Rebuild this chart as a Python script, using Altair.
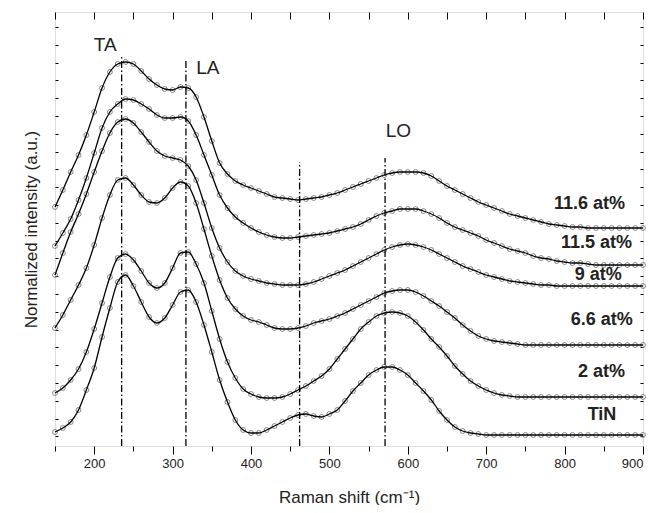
import altair as alt
import pandas as pd

# Raman shift grid (cm^-1)
shift = list(range(150, 901, 10))

# Normalized intensity (a.u., stacked with offsets)
i_116 = [239,256,274,291,311,334,358,374,382,384,
         382,375,367,361,357,356,359,358,349,329,
         305,283,272,265,261,258,255,252,249,248,
         247,246,247,248,249,251,253,256,259,262,
         265,268,271,273,274,274,274,273,270,265,
         260,256,252,248,244,241,238,235,232,230,
         228,226,224,222,221,220,219,219,218,218,
         218,218,218,218,218,218]
i_115 = [200,213,227,246,268,293,318,334,342,347,
         346,342,337,331,328,328,329,325,311,291,
         271,251,238,229,223,218,214,211,209,208,
         208,209,210,211,212,213,215,217,219,222,
         226,230,233,235,237,237,237,235,232,228,
         223,219,216,213,210,206,203,200,197,195,
         193,190,188,187,185,184,183,183,182,181,
         181,181,181,181,181,181]
i_9 = [171,193,214,232,252,274,295,313,324,327,
       323,314,304,295,290,288,286,280,266,243,
       218,198,184,175,170,167,165,163,162,161,
       161,161,162,164,167,170,173,176,180,184,
       188,192,196,199,201,202,201,199,196,192,
       188,184,180,177,174,171,169,167,165,164,
       163,162,161,161,160,160,160,160,160,160,
       160,160,160,160,160,160]
i_66 = [118,131,146,161,178,201,228,251,266,268,
        261,251,244,243,248,258,264,260,243,217,
        190,166,148,137,130,126,124,121,118,117,
        117,118,120,123,125,127,130,133,137,141,
        145,149,153,155,156,156,154,150,145,140,
        134,128,121,115,110,107,105,104,103,102,
        101,101,101,101,101,101,101,101,101,101,
        101,101,101,101,101,101]
i_2 = [53,58,66,77,94,117,143,169,188,192,
       186,175,163,158,163,178,193,194,182,163,
       135,107,84,68,57,52,49,48,48,49,
       52,56,60,65,70,77,87,97,107,117,
       124,130,133,134,133,130,124,116,107,99,
       90,80,72,65,60,56,53,51,50,49,
       49,49,49,49,49,49,49,49,49,49,
       49,49,49,49,49,49]
i_tin = [14,18,24,36,56,78,109,138,164,171,
         160,144,129,123,128,141,154,156,144,121,
         94,66,44,26,16,13,13,16,20,24,
         28,31,32,30,29,32,36,45,55,63,
         71,76,79,79,76,71,63,55,46,35,
         26,19,15,13,12,11,11,11,11,11,
         11,11,11,11,11,11,11,11,11,11,
         11,11,11,11,11,11]

samples = ["11.6 at%", "11.5 at%", "9 at%", "6.6 at%", "2 at%", "TiN"]
series = [i_116, i_115, i_9, i_66, i_2, i_tin]

# sample label positions (right edge, in data units)
label_x = [877, 886, 873, 887, 877, 866]
label_y = [242, 203, 171, 126, 74, 31]

# phonon mode reference lines
mode_x = [235, 317, 462, 571]
mode_top = [389, 387, 284, 288]

# mode annotations
mode_names = ["TA", "LA", "LO"]
mode_name_x = [214, 345, 588]
mode_name_y = [401, 378, 315]

rows = []
for name, vals in zip(samples, series):
    for x, v in zip(shift, vals):
        rows.append({"shift": x, "intensity": v, "sample": name})
df = pd.DataFrame(rows)

labels_df = pd.DataFrame({"x": label_x, "y": label_y, "text": samples})
rules_df = pd.DataFrame({"x": mode_x, "top": mode_top, "bottom": [0] * len(mode_x)})
modes_df = pd.DataFrame({"x": mode_name_x, "y": mode_name_y, "text": mode_names})

xs = alt.Scale(domain=[150, 900], nice=False, zero=False)
ys = alt.Scale(domain=[0, 434], nice=False, zero=False)

x_ticks = list(range(150, 901, 50))
y_ticks = [round(9.6 + 17.8 * k, 1) for k in range(24)]

points = alt.Chart(df).mark_point(
    shape="circle", filled=False, size=24, strokeWidth=0.8, color="#6a6a6a", opacity=1
).encode(
    x=alt.X("shift:Q", scale=xs, axis=alt.Axis(
        orient="top", values=x_ticks, labels=False, domain=False, grid=False,
        tickSize=7, offset=-7, tickColor="black", tickWidth=1, title=None)),
    y=alt.Y("intensity:Q", scale=ys, axis=alt.Axis(
        orient="right", values=y_ticks, labels=False, domain=False, grid=False,
        tickSize=3, offset=-3, tickColor="black", tickWidth=1, title=None)),
    detail="sample:N",
)

lines = alt.Chart(df).mark_line(
    color="black", strokeWidth=1.3, interpolate="monotone"
).encode(
    x=alt.X("shift:Q", scale=xs, axis=alt.Axis(
        orient="bottom", values=x_ticks, grid=False, domain=False,
        labelExpr="datum.value % 100 == 0 ? datum.label : ''",
        tickSize={"condition": {"test": "datum.value % 100 == 0", "value": 8}, "value": 5},
        tickColor="black", tickWidth=1,
        labelFontSize=13, labelPadding=3, labelColor="#222222", labelFont="Liberation Sans",
        title="Raman shift (cm⁻¹)", titleFontSize=17, titleFontWeight="normal",
        titleColor="#222222", titleFont="Liberation Sans",
        titleY=51, titleBaseline="middle")),
    y=alt.Y("intensity:Q", scale=ys, axis=alt.Axis(
        orient="left", values=y_ticks, labels=False, domain=False, grid=False,
        tickSize=3, offset=-3, tickColor="black", tickWidth=1,
        title="Normalized intensity (a.u.)", titleFontSize=17, titleFontWeight="normal",
        titleColor="#222222", titleFont="Liberation Sans",
        titleX=-27, titleY=217, titleAlign="center", titleBaseline="middle")),
    detail="sample:N",
)

rules = alt.Chart(rules_df).mark_rule(
    color="black", strokeWidth=1.3, strokeDash=[7, 2.5, 1.5, 2.5]
).encode(
    x=alt.X("x:Q", scale=xs, axis=None),
    y=alt.Y("bottom:Q", scale=ys, axis=None),
    y2="top:Q",
)

mode_text = alt.Chart(modes_df).mark_text(
    fontSize=19, font="Liberation Sans", color="#222222", align="center", baseline="middle"
).encode(
    x=alt.X("x:Q", scale=xs, axis=None),
    y=alt.Y("y:Q", scale=ys, axis=None),
    text="text:N",
)

sample_text = alt.Chart(labels_df).mark_text(
    fontSize=18, font="Liberation Sans", fontWeight="bold", color="#222222",
    align="right", baseline="middle"
).encode(
    x=alt.X("x:Q", scale=xs, axis=None),
    y=alt.Y("y:Q", scale=ys, axis=None),
    text="text:N",
)

chart = alt.layer(points, lines, rules, mode_text, sample_text).resolve_axis(
    x="independent", y="independent"
).properties(
    width=588, height=434,
    autosize=alt.AutoSizeParams(type="none"),
    padding={"left": 47, "top": 4, "right": 18, "bottom": 59},
).configure_view(
    stroke="black", strokeWidth=1.2
).configure(background="white")

chart.save("out.html", embed_options={"renderer": "svg", "actions": False})
